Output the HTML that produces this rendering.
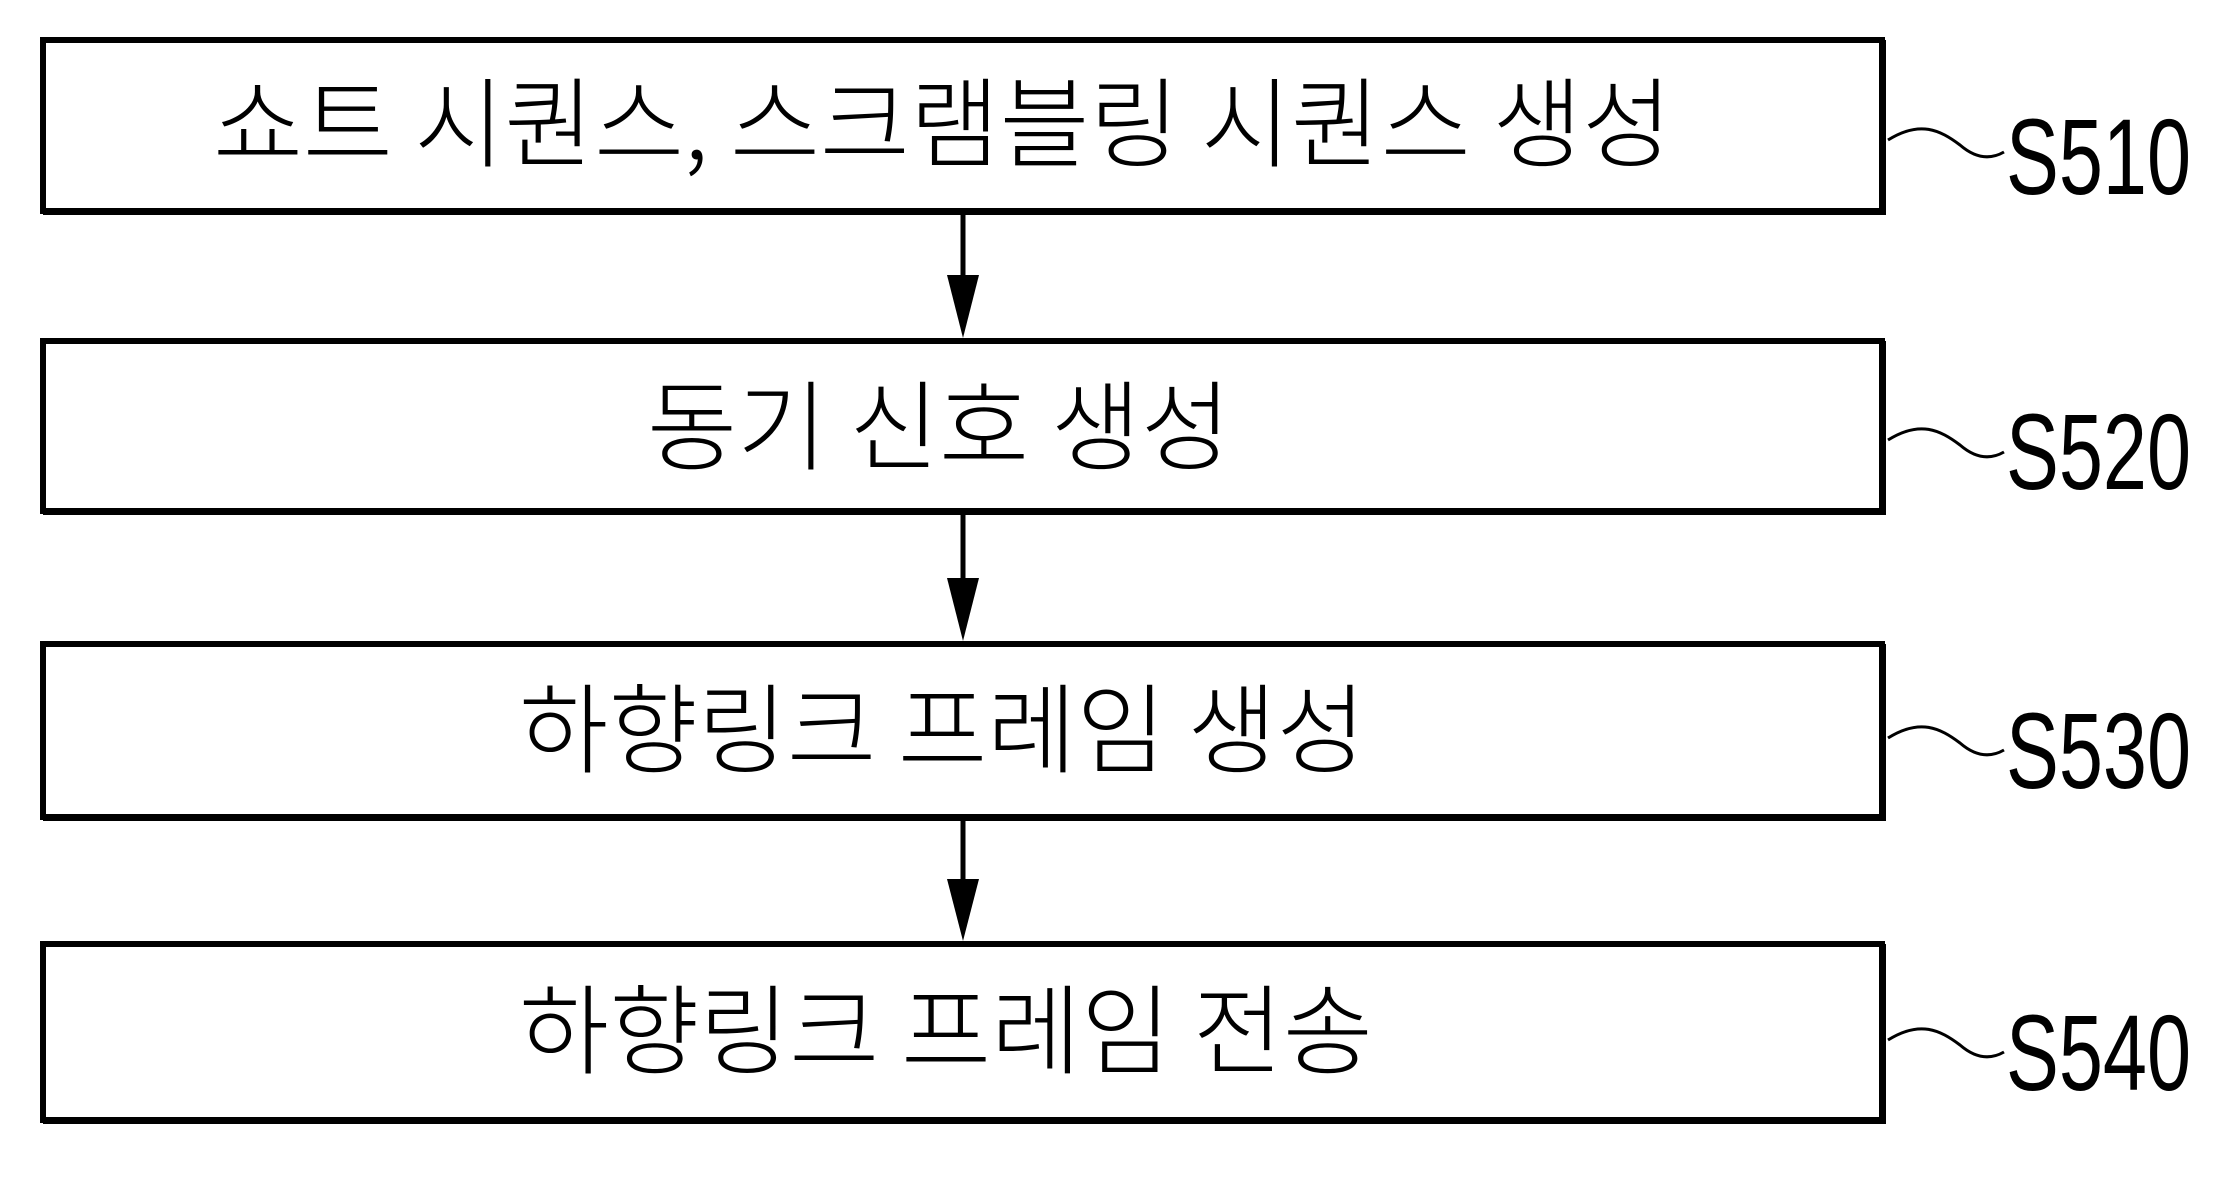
<!DOCTYPE html>
<html><head><meta charset="utf-8"><style>html,body{margin:0;padding:0;background:#fff}</style></head>
<body>
<svg width="2231" height="1178" viewBox="0 0 2231 1178" xmlns="http://www.w3.org/2000/svg">
<g fill="none" stroke="#000">
<rect x="43" y="40" width="1839" height="171" stroke-width="6"/>
<rect x="43" y="341" width="1839" height="170" stroke-width="6"/>
<rect x="43" y="644" width="1839" height="173" stroke-width="6"/>
<rect x="43" y="944" width="1839" height="176" stroke-width="6"/>
</g>
<g fill="#000">
<rect x="43" y="208" width="1842" height="7"/><rect x="1879" y="40" width="7" height="175"/>
<rect x="43" y="508" width="1842" height="7"/><rect x="1879" y="341" width="7" height="174"/>
<rect x="43" y="814" width="1842" height="7"/><rect x="1879" y="644" width="7" height="177"/>
<rect x="43" y="1117" width="1842" height="7"/><rect x="1879" y="944" width="7" height="180"/>
</g>
<g stroke="#000" stroke-width="5">
<line x1="963" y1="215" x2="963" y2="280"/>
<line x1="963" y1="515" x2="963" y2="585"/>
<line x1="963" y1="821" x2="963" y2="885"/>
</g>
<g fill="#000">
<polygon points="947,275 979,275 963,338"/>
<polygon points="947,578 979,578 963,641"/>
<polygon points="947,879 979,879 963,941"/>
</g>
<g fill="none" stroke="#000" stroke-width="3">
<path d="M1888,140 C1920,120 1940,130 1960,145 C1975,158 1990,160 2004,152"/>
<path d="M1888,440 C1920,420 1940,430 1960,445 C1975,458 1990,460 2004,452"/>
<path d="M1888,738 C1920,718 1940,728 1960,743 C1975,756 1990,758 2004,750"/>
<path d="M1888,1040 C1920,1020 1940,1030 1960,1045 C1975,1058 1990,1060 2004,1052"/>
</g>
<g font-family="'Noto Sans CJK KR',sans-serif" font-weight="300" font-size="98" fill="#000">
<text x="213" y="159" textLength="1459" lengthAdjust="spacingAndGlyphs">쇼트 시퀀스, 스크램블링 시퀀스 생성</text>
<text x="647" y="462" textLength="584" lengthAdjust="spacingAndGlyphs">동기 신호 생성</text>
<text x="519" y="765" textLength="847" lengthAdjust="spacingAndGlyphs">하향링크 프레임 생성</text>
<text x="519" y="1066" textLength="854" lengthAdjust="spacingAndGlyphs">하향링크 프레임 전송</text>
</g>
<g font-family="'Liberation Sans',sans-serif" font-size="108" fill="#000">
<text x="2006" y="194" textLength="185" lengthAdjust="spacingAndGlyphs">S510</text>
<text x="2006" y="489" textLength="185" lengthAdjust="spacingAndGlyphs">S520</text>
<text x="2006" y="788" textLength="185" lengthAdjust="spacingAndGlyphs">S530</text>
<text x="2006" y="1090" textLength="185" lengthAdjust="spacingAndGlyphs">S540</text>
</g>
</svg>
</body></html>
